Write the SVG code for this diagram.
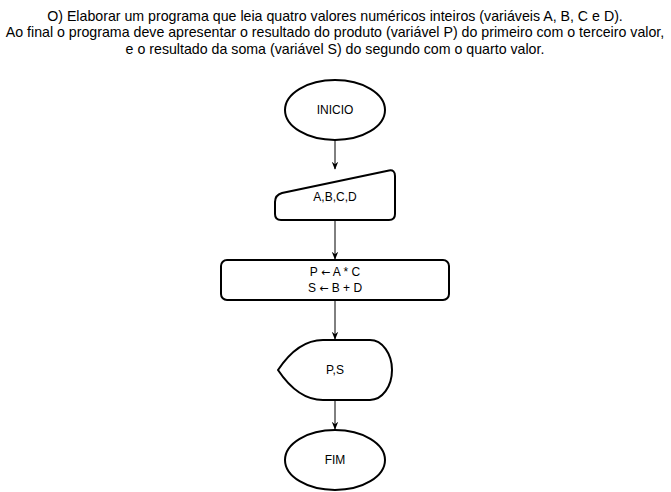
<svg xmlns="http://www.w3.org/2000/svg" width="671" height="492" viewBox="0 0 671 492">
<defs>
<style>
.s{fill:#fff;stroke:#000;stroke-width:2}
.t{font-family:"Liberation Sans",Arial,sans-serif;font-size:12px;fill:#000;text-anchor:middle}
.h{font-size:14.2px}
.ar{font-family:"DejaVu Sans",sans-serif;font-size:11px}
.c{stroke:#000;stroke-width:1;fill:none}
</style>
<marker id="a" viewBox="0 0 10 10" refX="9" refY="5" markerWidth="8" markerHeight="8" markerUnits="userSpaceOnUse" orient="auto">
<path d="M0,1 L10,5 L0,9 L3,5 Z" fill="#000"/>
</marker>
</defs>
<rect width="671" height="492" fill="#fff"/>
<g id="title">
<text class="t h" x="335" y="21">O) Elaborar um programa que leia quatro valores numéricos inteiros (variáveis A, B, C e D).</text>
<text class="t h" x="335" y="37">Ao final o programa deve apresentar o resultado do produto (variável P) do primeiro com o terceiro valor,</text>
<text class="t h" x="335" y="54">e o resultado da soma (variável S) do segundo com o quarto valor.</text>
</g>
<g id="connectors">
<path class="c" d="M335,140 V169" marker-end="url(#a)"/>
<path class="c" d="M335,220 V259" marker-end="url(#a)"/>
<path class="c" d="M335,300 V339" marker-end="url(#a)"/>
<path class="c" d="M335,400 V429" marker-end="url(#a)"/>
</g>
<g id="inicio">
<ellipse class="s" cx="335" cy="110" rx="50" ry="30"/>
<text class="t" x="335" y="114">INICIO</text>
</g>
<g id="entrada">
<path class="s" d="M275,202 Q275,195 282,193 L389,170.5 Q395,169.5 395,176 V214 Q395,220 389,220 H281 Q275,220 275,214 Z"/>
<text class="t" x="335" y="201">A,B,C,D</text>
</g>
<g id="processo">
<rect class="s" x="221" y="260" width="228" height="40" rx="6"/>
<text class="t" x="335" y="276">P <tspan class="ar">←</tspan> A * C</text>
<text class="t" x="335" y="292">S <tspan class="ar">←</tspan> B + D</text>
</g>
<g id="saida">
<path class="s" d="M278,370 Q298,340 323,340 L370,340 A22,30 0 0 1 370,400 L323,400 Q298,400 278,370 Z"/>
<text class="t" x="335" y="374">P,S</text>
</g>
<g id="fim">
<ellipse class="s" cx="335" cy="460" rx="50" ry="30"/>
<text class="t" x="335" y="464">FIM</text>
</g>
</svg>
